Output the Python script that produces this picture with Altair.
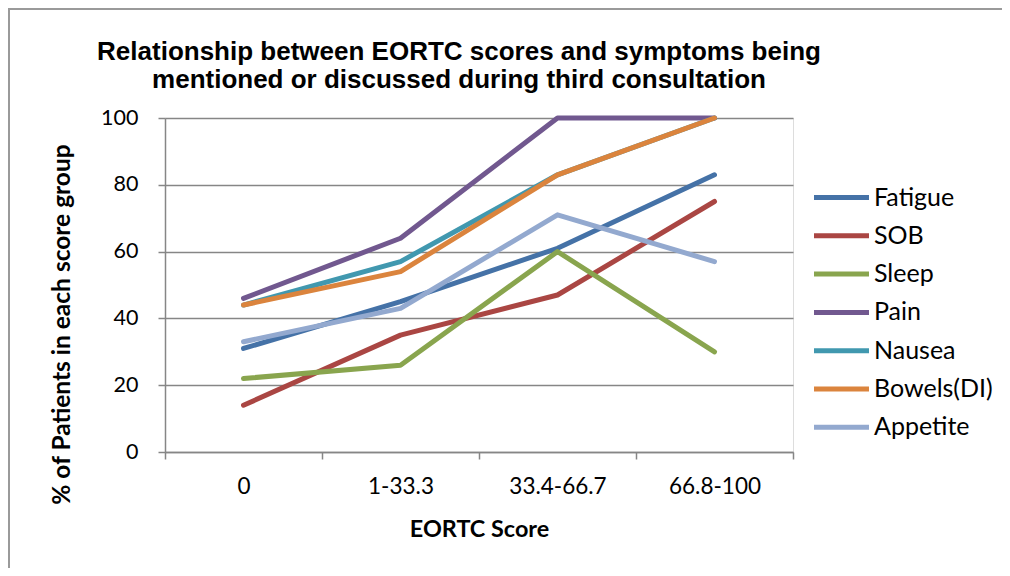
import altair as alt
import pandas as pd

categories = ["0", "1-33.3", "33.4-66.7", "66.8-100"]
series_names = ["Fatigue", "SOB", "Sleep", "Pain", "Nausea", "Bowels(DI)", "Appetite"]
fatigue = [31, 45, 61, 83]
sob = [14, 35, 47, 75]
sleep = [22, 26, 60, 30]
pain = [46, 64, 100, 100]
nausea = [44, 57, 83, 100]
bowels = [44, 54, 83, 100]
appetite = [33, 43, 71, 57]
colors = ["#4572A7", "#AA4643", "#89A54E", "#71588F", "#4198AF", "#DB843D", "#93A9CF"]

values = [fatigue, sob, sleep, pain, nausea, bowels, appetite]
rows = []
for k, (name, vals) in enumerate(zip(series_names, values)):
    for c, v in zip(categories, vals):
        rows.append({"score": c, "symptom": name, "pct": v, "order": k})
df = pd.DataFrame(rows)

W, H = 628, 334
PL, PT, PR, PB = 157, 110, 209, 116
GRAY = "#868686"

lines = alt.Chart(df).mark_line(strokeWidth=5, strokeCap="round", strokeJoin="round").encode(
    x=alt.X("score:N", sort=categories, bandPosition=0.5,
            scale=alt.Scale(type="band", paddingInner=0, paddingOuter=0),
            axis=alt.Axis(title="EORTC Score", labelAngle=0, tickBand="extent",
                          domainColor=GRAY, tickColor=GRAY, tickSize=7, domainWidth=1.5, tickWidth=1.5,
                          labelFont="Lato", labelFontSize=22.5, labelColor="black", labelPadding=16,
                          titleFont="Lato", titleFontSize=23.4, titleFontWeight="bold", titleColor="black",
                          titlePadding=21, grid=False)),
    y=alt.Y("pct:Q", scale=alt.Scale(domain=[0, 100], nice=False),
            axis=alt.Axis(title="% of Patients in each score group", values=[0, 20, 40, 60, 80, 100],
                          domainColor=GRAY, tickColor=GRAY, tickSize=7, domainWidth=1.5, tickWidth=1.5,
                          gridColor=GRAY, gridWidth=1.5,
                          labelFont="Lato", labelFontSize=21.5, labelColor="black", labelPadding=20,
                          titleFont="Lato", titleFontSize=24.5, titleFontWeight="bold", titleColor="black",
                          titleAngle=-90, titleX=-103, titleY=206, titleAlign="center", titleBaseline="middle")),
    color=alt.Color("symptom:N", sort=series_names,
                    scale=alt.Scale(domain=series_names, range=colors),
                    legend=alt.Legend(title=None, orient="none", legendX=660, legendY=63,
                                      symbolType="M-2,0H2", symbolSize=756, symbolStrokeWidth=5,
                                      symbolFillColor="transparent",
                                      labelFont="Lato", labelFontSize=25, labelColor="black",
                                      labelOffset=16, rowPadding=8.3, padding=0)),
    order=alt.Order("order:Q"),
    detail="order:Q",
)

frame_top = alt.Chart(df).mark_rule(color="#9a9a9a", strokeWidth=2).encode(
    x=alt.value(-PL), x2=alt.value(W + PR), y=alt.value(-PT + 1))
frame_left = alt.Chart(df).mark_rule(color="#9a9a9a", strokeWidth=2).encode(
    x=alt.value(-PL + 1), y=alt.value(-PT), y2=alt.value(H + PB))

chart = alt.layer(frame_top, frame_left, lines).properties(
    width=W, height=H,
    padding={"left": PL, "top": PT, "right": PR, "bottom": PB},
    autosize=alt.AutoSizeParams(type="none"),
    title=alt.TitleParams(
        text=["Relationship between EORTC scores and symptoms being",
              "mentioned or discussed during third consultation"],
        font="Liberation Sans", fontSize=26, fontWeight="bold", color="black",
        anchor="middle", dx=-20, dy=108, offset=22, lineHeight=28),
).configure_view(stroke="transparent").configure(background="white")

chart.save("out.html", embed_options={"renderer": "svg", "actions": False})
